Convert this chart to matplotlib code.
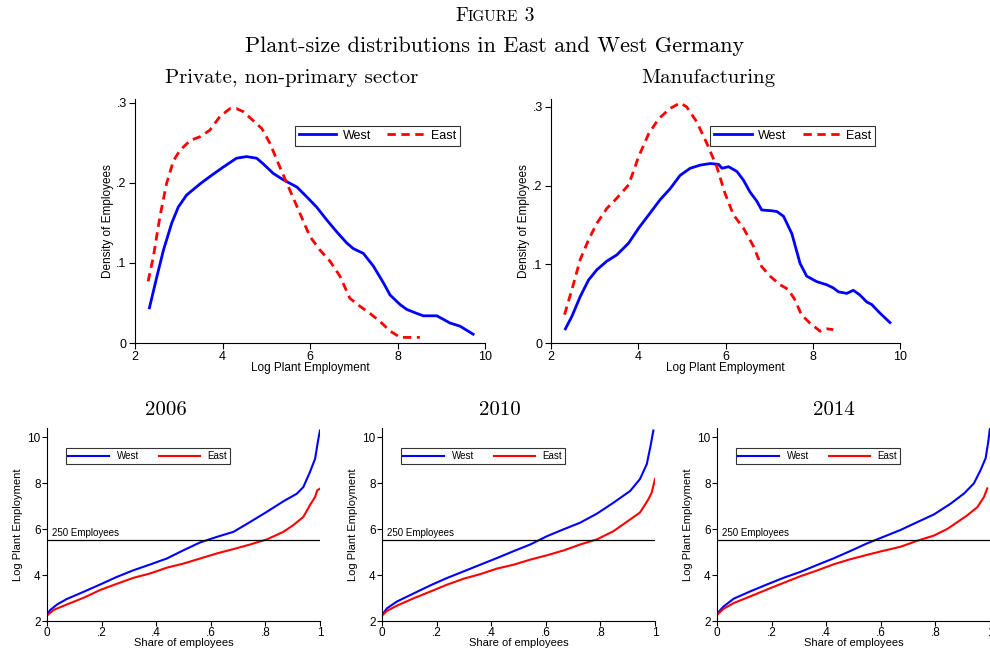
import matplotlib
matplotlib.use('Agg')
import matplotlib.pyplot as plt
import numpy as np
from matplotlib.ticker import FuncFormatter

plt.rcParams['font.family'] = ['Liberation Sans', 'DejaVu Sans']

# Kernel densities of employment, private non-primary sector
priv_west_x = [2.33, 2.50, 2.65, 2.84, 2.99, 3.18, 3.49, 3.71, 4.02, 4.32, 4.55, 4.78, 4.93, 5.16,
               5.39, 5.70, 5.92, 6.15, 6.38, 6.61, 6.84, 6.99, 7.22, 7.45, 7.68, 7.83, 8.06, 8.21,
               8.44, 8.59, 8.90, 9.20, 9.43, 9.73]
priv_west_y = [0.044, 0.083, 0.116, 0.150, 0.170, 0.185, 0.199, 0.208, 0.220, 0.231, 0.233, 0.231,
               0.224, 0.212, 0.204, 0.195, 0.183, 0.170, 0.154, 0.139, 0.125, 0.118, 0.112, 0.096,
               0.075, 0.060, 0.048, 0.042, 0.037, 0.034, 0.034, 0.025, 0.021, 0.011]
priv_east_x = [2.30, 2.42, 2.57, 2.72, 2.88, 3.03, 3.26, 3.49, 3.71, 3.94, 4.17, 4.32, 4.48, 4.70,
               4.90, 5.09, 5.31, 5.54, 5.77, 6.00, 6.23, 6.46, 6.69, 6.91, 7.14, 7.37, 7.60, 7.83,
               8.06, 8.29, 8.51]
priv_east_y = [0.077, 0.108, 0.158, 0.199, 0.228, 0.241, 0.253, 0.258, 0.266, 0.283, 0.293, 0.293,
               0.289, 0.278, 0.268, 0.249, 0.220, 0.191, 0.162, 0.133, 0.116, 0.102, 0.083, 0.056,
               0.046, 0.037, 0.027, 0.015, 0.007, 0.007, 0.007]

# Manufacturing
manu_west_x = [2.33, 2.48, 2.67, 2.86, 3.05, 3.28, 3.51, 3.78, 4.01, 4.27, 4.50, 4.73, 4.96, 5.19,
               5.42, 5.65, 5.84, 5.92, 6.07, 6.26, 6.41, 6.56, 6.72, 6.83, 7.06, 7.18, 7.33, 7.52,
               7.71, 7.86, 8.09, 8.32, 8.47, 8.59, 8.78, 8.93, 9.08, 9.24, 9.35, 9.54, 9.77]
manu_west_y = [0.018, 0.034, 0.059, 0.080, 0.093, 0.104, 0.112, 0.127, 0.146, 0.165, 0.182, 0.196,
               0.213, 0.222, 0.226, 0.228, 0.227, 0.222, 0.224, 0.218, 0.207, 0.192, 0.180, 0.169,
               0.168, 0.167, 0.161, 0.139, 0.101, 0.085, 0.078, 0.074, 0.070, 0.065, 0.063, 0.067,
               0.061, 0.052, 0.049, 0.038, 0.026]
manu_east_x = [2.31, 2.48, 2.67, 2.86, 3.05, 3.28, 3.51, 3.78, 4.01, 4.24, 4.47, 4.73, 4.96, 5.11,
               5.34, 5.57, 5.80, 5.99, 6.18, 6.41, 6.64, 6.83, 7.02, 7.25, 7.44, 7.59, 7.74, 7.94,
               8.17, 8.32, 8.47]
manu_east_y = [0.036, 0.068, 0.106, 0.131, 0.152, 0.171, 0.184, 0.201, 0.237, 0.266, 0.285, 0.298,
               0.305, 0.300, 0.281, 0.254, 0.224, 0.190, 0.163, 0.146, 0.123, 0.097, 0.085, 0.074,
               0.068, 0.055, 0.036, 0.025, 0.015, 0.018, 0.017]

# Cumulative employment share by log plant size, per year
w06_x = [0.002, 0.012, 0.037, 0.073, 0.134, 0.195, 0.256, 0.317, 0.378, 0.439, 0.500, 0.561, 0.622,
         0.683, 0.744, 0.805, 0.866, 0.915, 0.939, 0.963, 0.982, 0.994, 1.0]
w06_y = [2.33, 2.48, 2.72, 2.96, 3.27, 3.59, 3.92, 4.21, 4.46, 4.72, 5.08, 5.42, 5.66, 5.88, 6.31,
         6.75, 7.21, 7.54, 7.83, 8.48, 9.06, 9.93, 10.29]
e06_x = [0.002, 0.024, 0.073, 0.134, 0.195, 0.256, 0.317, 0.378, 0.439, 0.500, 0.561, 0.622, 0.683,
         0.744, 0.805, 0.866, 0.902, 0.939, 0.963, 0.982, 0.990, 1.0]
e06_y = [2.26, 2.48, 2.72, 3.01, 3.35, 3.62, 3.88, 4.07, 4.32, 4.50, 4.72, 4.94, 5.13, 5.33, 5.55,
         5.88, 6.17, 6.53, 7.04, 7.40, 7.69, 7.76]

w10_x = [0.002, 0.018, 0.055, 0.116, 0.177, 0.238, 0.299, 0.360, 0.421, 0.482, 0.543, 0.604, 0.665,
         0.726, 0.787, 0.848, 0.909, 0.945, 0.970, 0.984, 0.994]
w10_y = [2.29, 2.55, 2.85, 3.20, 3.55, 3.87, 4.16, 4.45, 4.74, 5.04, 5.33, 5.69, 5.99, 6.28, 6.67,
         7.15, 7.66, 8.18, 8.83, 9.64, 10.29]
e10_x = [0.002, 0.018, 0.055, 0.116, 0.177, 0.238, 0.299, 0.360, 0.421, 0.482, 0.543, 0.604, 0.665,
         0.726, 0.787, 0.848, 0.909, 0.945, 0.976, 0.988, 1.0]
e10_y = [2.26, 2.44, 2.67, 2.99, 3.28, 3.58, 3.84, 4.04, 4.28, 4.45, 4.67, 4.86, 5.07, 5.33, 5.55,
         5.91, 6.42, 6.72, 7.30, 7.59, 8.18]

w14_x = [0.002, 0.024, 0.061, 0.122, 0.183, 0.244, 0.306, 0.367, 0.428, 0.489, 0.550, 0.611, 0.672,
         0.733, 0.795, 0.856, 0.905, 0.941, 0.966, 0.984, 0.993, 1.0]
w14_y = [2.34, 2.63, 2.97, 3.29, 3.59, 3.88, 4.14, 4.44, 4.73, 5.05, 5.38, 5.67, 5.96, 6.30, 6.64,
         7.11, 7.55, 7.99, 8.58, 9.09, 9.75, 10.41]
e14_x = [0.002, 0.024, 0.061, 0.122, 0.183, 0.244, 0.306, 0.367, 0.428, 0.489, 0.550, 0.611, 0.672,
         0.733, 0.795, 0.844, 0.880, 0.917, 0.954, 0.978, 0.990]
e14_y = [2.29, 2.53, 2.78, 3.07, 3.37, 3.66, 3.95, 4.20, 4.47, 4.69, 4.88, 5.06, 5.23, 5.49, 5.72,
         6.01, 6.30, 6.60, 6.96, 7.40, 7.77]

years = ['2006', '2010', '2014']
cdf_west = [(w06_x, w06_y), (w10_x, w10_y), (w14_x, w14_y)]
cdf_east = [(e06_x, e06_y), (e10_x, e10_y), (e14_x, e14_y)]

BLUE = '#0000ff'
RED = '#ff0000'
SERIF = 'cmr10'
W, H = 990, 652


def strip_zero(v, pos):
    s = ('%g' % round(v, 2))
    if s.startswith('0.'):
        s = s[1:]
    return s


def stata_axes(ax):
    for side in ['top', 'right']:
        ax.spines[side].set_visible(False)
    for side in ['left', 'bottom']:
        ax.spines[side].set_linewidth(0.8)
    ax.tick_params(direction='out', length=4, width=0.8, pad=2, colors='black')
    ax.xaxis.set_major_formatter(FuncFormatter(strip_zero))
    ax.yaxis.set_major_formatter(FuncFormatter(strip_zero))


fig = plt.figure(figsize=(W / 100, H / 100), dpi=100)

# ---- top row: density plots
top_panels = [
    ('Private, non-primary sector', [135 / W, 1 - 343 / H, 350 / W, 244 / H], 0.305, 292,
     priv_west_x, priv_west_y, priv_east_x, priv_east_y),
    ('Manufacturing', [551 / W, 1 - 343 / H, 349 / W, 244 / H], 0.31, 708,
     manu_west_x, manu_west_y, manu_east_x, manu_east_y),
]
for title, rect, ytop, tx, wx, wy, ex, ey in top_panels:
    ax = fig.add_axes(rect)
    ax.plot(wx, wy, color=BLUE, lw=2, label='West')
    ax.plot(ex, ey, color=RED, lw=2, ls=(0, (3, 2)), label='East')
    ax.set_xlim(2, 10)
    ax.set_ylim(0, ytop)
    ax.set_xticks([2, 4, 6, 8, 10])
    ax.set_yticks([0, 0.1, 0.2, 0.3])
    stata_axes(ax)
    ax.tick_params(labelsize=9)
    ax.set_xlabel('Log Plant Employment', fontsize=8.5, labelpad=-1)
    ax.set_ylabel('Density of Employees', fontsize=8.5, labelpad=2)
    leg = ax.legend(loc='upper left', bbox_to_anchor=(0.457, 0.889), ncol=2, fontsize=9,
                    frameon=True, fancybox=False, edgecolor='black', handlelength=3.0,
                    handletextpad=0.5, columnspacing=1.3, borderpad=0.3, borderaxespad=0)
    leg.get_frame().set_linewidth(0.8)
    fig.text(tx / W, 1 - 78 / H, title, family=SERIF, fontsize=15,
             ha='center', va='center')

# ---- bottom row: employment share curves
lefts = [47, 382, 717]
centres = [166, 500, 834]
for i, year in enumerate(years):
    rect = [lefts[i] / W, 1 - 621 / H, 273 / W, 193 / H]
    ax = fig.add_axes(rect)
    ax.plot(*cdf_west[i], color=BLUE, lw=1.5, label='West')
    ax.plot(*cdf_east[i], color=RED, lw=1.5, label='East')
    ax.axhline(np.log(250), color='black', lw=0.9)
    ax.text(0.02, np.log(250) + 0.1, '250 Employees', fontsize=7, va='bottom')
    ax.set_xlim(0, 1)
    ax.set_ylim(2, 10.4)
    ax.set_xticks([0, 0.2, 0.4, 0.6, 0.8, 1])
    ax.set_yticks([2, 4, 6, 8, 10])
    stata_axes(ax)
    ax.tick_params(labelsize=8.5, length=3.5, pad=1)
    ax.set_xlabel('Share of employees', fontsize=8, labelpad=-1)
    ax.set_ylabel('Log Plant Employment', fontsize=8, labelpad=3)
    leg = ax.legend(loc='upper left', bbox_to_anchor=(0.068, 0.896), ncol=2, fontsize=7,
                    frameon=True, fancybox=False, edgecolor='black', handlelength=4.2,
                    columnspacing=2.0, borderpad=0.3, borderaxespad=0)
    leg.get_frame().set_linewidth(0.8)
    fig.text(centres[i] / W, 1 - 410 / H, year, family=SERIF, fontsize=15,
             ha='center', va='center')

# ---- figure heading, "Figure" set in small caps
fig.text(0.5, 1 - 46 / H, 'Plant-size distributions in East and West Germany',
         family=SERIF, fontsize=16, ha='center', va='center')

renderer = fig.canvas.get_renderer()
parts = [('F', 14.2), ('IGURE', 11.0), (' 3', 14.2)]
pieces = [fig.text(0, 0, s, family=SERIF, fontsize=fs, va='baseline') for s, fs in parts]
widths = [p.get_window_extent(renderer).width / fig.bbox.width for p in pieces]
x0 = 0.5 - sum(widths) / 2
for p, w in zip(pieces, widths):
    p.set_position((x0, 1 - 21 / H))
    x0 += w

fig.savefig('out.png', dpi=100)
